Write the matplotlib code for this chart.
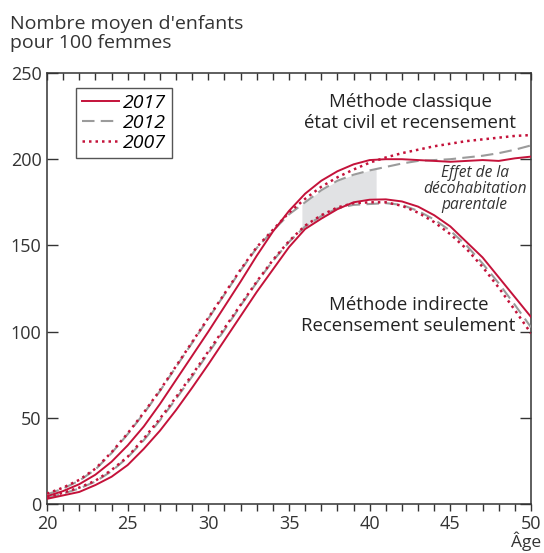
import numpy as np
import matplotlib
matplotlib.use("Agg")
import matplotlib.pyplot as plt

plt.rcParams['font.family'] = ['Open Sans', 'DejaVu Sans']

# Ages
ages = list(range(20, 51))

# Méthode classique (état civil et recensement)
classic_2017 = [4.5, 7.5, 11.5, 17, 24.5, 34, 45, 58, 72, 86, 100, 114.5, 129, 144, 158, 170,
                180, 187.5, 193, 197, 199.5, 200, 200, 199.5, 199, 198.5, 199, 199.5, 199, 200.5, 201.5]
classic_2012 = [5.5, 9, 13.5, 20, 29.5, 40.5, 52.5, 65.5, 79.5, 93.5, 107.5, 121.5, 135.5, 148.5, 158.5, 168,
                175, 182, 187.5, 191, 193.5, 195.5, 197.5, 199, 199.5, 200, 201, 202, 203.5, 205.5, 208]
classic_2007 = [6, 9.5, 14, 20.5, 30, 41, 53, 66, 80, 94, 108, 122, 136, 149, 159, 169,
                177, 184, 189.5, 194, 198, 201, 203.5, 205.5, 207.5, 209, 210.5, 211.5, 212.5, 213.5, 214]

# Méthode indirecte (recensement seulement)
indirect_2017 = [3, 5, 7, 11, 15.8, 22.6, 32, 42.5, 54.5, 67.5, 81, 95, 109, 123, 136, 149,
                 159.5, 165.5, 171, 175, 176.5, 176.7, 175.5, 172.5, 167.5, 161, 152, 143, 131.5, 120, 108.5]
indirect_2012 = [3.5, 6, 9, 13, 19, 27, 37, 48.5, 61, 74, 87.5, 101, 115, 128.5, 141, 152,
                 161, 167, 171.5, 173.5, 174, 174.5, 173.5, 170, 165, 158.5, 150, 139.5, 128, 115.5, 102.5]
indirect_2007 = [4, 6.5, 9.5, 13.5, 19.7, 27.4, 38, 49.5, 62, 75, 88.5, 102, 115.5, 129, 141.5, 152.5,
                 161.5, 167.5, 172, 174.5, 175, 175, 173, 169, 163.5, 156.5, 148, 137.5, 125.5, 112.5, 99]

# Age span of the "décohabitation parentale" effect
shade_start, shade_end = 35.8, 40.4

red = '#c4123a'
grey = '#9b9b9b'
dark = '#333333'

fig = plt.figure(figsize=(5.44, 5.53), dpi=100)
ax = fig.add_axes([0.0864, 0.0886, 0.8897, 0.7794])

# shaded gap between the two methods
xs = np.linspace(shade_start, shade_end, 50)
ax.fill_between(xs, np.interp(xs, ages, indirect_2017), np.interp(xs, ages, classic_2012),
                color='#e1e2e4', lw=0, zorder=1)

for c, ind, style, col, lw, lab in [
    (classic_2012, indirect_2012, (0, (6, 3)), grey, 1.5, '2012'),
    (classic_2007, indirect_2007, (0, (1, 1.6)), red, 1.8, '2007'),
    (classic_2017, indirect_2017, '-', red, 1.4, '2017'),
]:
    ax.plot(ages, c, linestyle=style, color=col, lw=lw, label=lab, zorder=3)
    ax.plot(ages, ind, linestyle=style, color=col, lw=lw, zorder=3)

ax.set_xlim(20, 50)
ax.set_ylim(0, 250)
ax.set_xticks(range(20, 51, 5))
ax.set_xticks(range(20, 51), minor=True)
ax.set_yticks(range(0, 251, 50))

for s in ax.spines.values():
    s.set_color(dark)
    s.set_linewidth(1.1)

ax.tick_params(axis='x', which='both', direction='out', length=5, width=1, color=dark,
               labelsize=13, labelcolor=dark, pad=3)
ax.tick_params(axis='y', which='both', direction='in', length=8, width=1, color=dark,
               labelsize=13, labelcolor=dark, right=True, pad=4)

top = ax.secondary_xaxis('top')
top.set_xticks(range(20, 51))
top.tick_params(direction='in', length=5, width=1, color=dark, labeltop=False)
top.spines['top'].set_visible(False)

# legend
handles, labels = ax.get_legend_handles_labels()
order = [2, 0, 1]
leg = ax.legend([handles[i] for i in order], [labels[i] for i in order],
                loc='upper left', bbox_to_anchor=(0.06, 0.965), borderaxespad=0,
                fancybox=False, edgecolor='#555555', framealpha=1,
                prop={'style': 'italic', 'size': 14}, handlelength=1.9,
                labelspacing=0.1, handletextpad=0.2, borderpad=0.3)
leg.get_frame().set_linewidth(1.0)

# annotations
ax.text(42.5, 227, "Méthode classique\nétat civil et recensement", ha='center', va='center',
        fontsize=13.4, color='#222222', linespacing=1.2)
ax.text(42.4, 109.5, "Méthode indirecte\nRecensement seulement", ha='center', va='center',
        fontsize=13.4, color='#222222', linespacing=1.2)
ax.text(46.5, 182.5, "Effet de la\ndécohabitation\nparentale", ha='center', va='center',
        fontsize=11.2, style='italic', color='#333333', linespacing=1.0)

fig.text(0.018, 0.972, "Nombre moyen d'enfants\npour 100 femmes", ha='left', va='top',
         fontsize=14, color=dark, linespacing=1.05)
fig.text(0.995, 0.011, "Âge", ha='right', va='baseline', fontsize=12.5, color=dark)

fig.savefig("out.png", dpi=100)
